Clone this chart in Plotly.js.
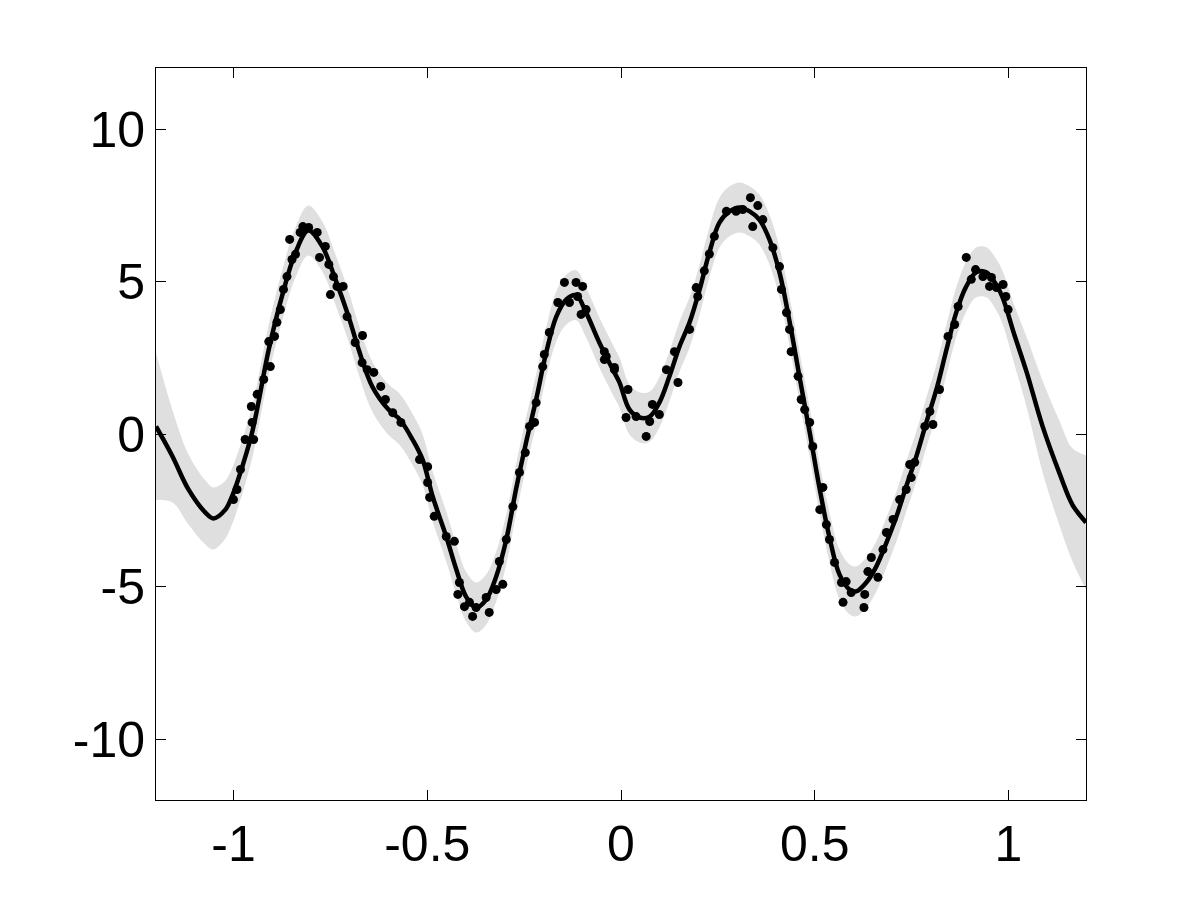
<!DOCTYPE html>
<html>
<head>
<meta charset="utf-8">
<script src="https://cdn.plot.ly/plotly-3.0.1.min.js"></script>
<style>html,body{margin:0;padding:0;background:#fff;}#chart{width:1200px;height:900px;}</style>
</head>
<body>
<div id="chart"></div>
<script>
// Posterior mean curve
var meanX = [-1.2,-1.158,-1.117,-1.073,-1.052,-1.021,-1.004,-0.988,-0.952,-0.909,
  -0.875,-0.840,-0.807,-0.771,-0.737,-0.703,-0.677,-0.642,-0.600,-0.571,
  -0.538,-0.512,-0.486,-0.451,-0.425,-0.400,-0.374,-0.348,-0.322,-0.296,
  -0.271,-0.245,-0.219,-0.193,-0.167,-0.141,-0.116,-0.090,-0.056,-0.021,
  -0.004,0.022,0.048,0.074,0.099,0.125,0.151,0.177,0.203,0.228,
  0.254,0.280,0.306,0.332,0.357,0.383,0.409,0.435,0.461,0.487,
  0.513,0.538,0.564,0.590,0.607,0.633,0.659,0.685,0.711,0.736,
  0.762,0.788,0.814,0.840,0.865,0.891,0.917,0.943,0.969,0.985,
  1.016,1.047,1.088,1.132,1.165,1.2];
var meanY = [0.25,-0.72,-1.80,-2.57,-2.77,-2.48,-2.05,-1.49,0.05,2.77,
  4.51,5.95,6.67,6.15,5.07,3.85,2.77,1.56,0.80,0.48,
  -0.18,-0.84,-2.05,-3.36,-4.44,-5.33,-5.69,-5.43,-4.67,-3.46,
  -1.82,-0.28,1.13,2.67,3.85,4.41,4.55,3.98,3.00,2.11,
  1.69,0.80,0.54,0.57,1.03,1.89,2.87,3.66,4.74,5.95,
  6.93,7.30,7.43,7.30,7.03,6.38,5.30,3.69,1.85,0.05,
  -1.82,-3.39,-4.61,-5.10,-5.16,-4.87,-4.34,-3.56,-2.70,-1.72,
  -0.74,0.38,1.46,2.77,3.98,4.84,5.30,5.30,4.88,4.47,
  3.22,2.02,0.25,-1.30,-2.32,-2.90];
// Half-width of the grey confidence band at each meanX
var bandHalf = [2.41,1.52,1.15,1.05,1.02,0.95,0.92,0.90,0.85,0.82,
  0.82,0.82,0.82,0.82,0.82,0.82,0.82,0.82,0.83,0.84,
  0.84,0.83,0.82,0.82,0.82,0.82,0.82,0.82,0.82,0.82,
  0.82,0.82,0.82,0.82,0.82,0.82,0.82,0.82,0.82,0.82,
  0.82,0.82,0.82,0.82,0.82,0.82,0.82,0.82,0.82,0.82,
  0.82,0.82,0.82,0.82,0.82,0.82,0.82,0.82,0.82,0.82,
  0.82,0.82,0.82,0.82,0.82,0.82,0.82,0.82,0.82,0.82,
  0.82,0.82,0.82,0.82,0.82,0.82,0.82,0.82,0.84,0.87,
  0.97,1.15,1.50,1.72,1.85,2.20];
// Observed data points
var ptX = [-1.000,-0.991,-0.982,-0.970,-0.948,-0.952,-0.954,-0.939,-0.922,-0.905,
  -0.909,-0.894,-0.888,-0.879,-0.871,-0.862,-0.849,-0.840,-0.855,-0.828,
  -0.821,-0.806,-0.784,-0.763,-0.778,-0.754,-0.742,-0.733,-0.750,-0.717,
  -0.707,-0.686,-0.667,-0.668,-0.655,-0.638,-0.620,-0.608,-0.589,
  -0.568,-0.520,-0.499,-0.499,-0.494,-0.482,-0.451,-0.430,-0.417,-0.421,
  -0.404,-0.391,-0.383,-0.374,-0.348,-0.340,-0.322,-0.305,-0.314,-0.296,
  -0.279,-0.262,-0.247,-0.236,-0.223,-0.219,-0.202,-0.198,-0.185,-0.163,
  -0.146,-0.133,-0.116,-0.099,-0.112,-0.090,-0.103,-0.038,-0.017,
  -0.043,-0.043,-0.017,0.018,0.013,0.039,0.065,0.074,0.081,0.099,0.117,
  0.147,0.138,0.177,0.198,0.194,0.215,0.228,0.241,0.272,0.297,0.314,0.334,
  0.353,0.340,0.366,0.392,0.409,0.414,0.427,0.435,0.439,0.465,
  0.474,0.487,
  0.457,0.495,0.521,0.513,0.530,0.538,0.551,0.569,0.581,0.573,
  0.594,0.629,0.627,0.637,0.646,0.663,0.676,0.685,0.702,0.719,
  0.736,0.749,0.745,0.758,0.784,0.805,0.797,0.822,0.844,0.861,
  0.870,0.891,0.904,0.915,0.934,0.951,0.956,0.969,0.986,0.993,0.999];
var ptY = [-2.15,-1.82,-1.16,-0.18,-0.18,0.38,0.90,1.30,1.79,2.21,
  3.03,3.20,3.66,4.08,4.74,5.16,5.72,5.89,6.38,6.61,
  6.80,6.77,6.61,6.15,5.79,5.56,5.16,4.84,4.57,4.84,
  3.85,3.00,3.23,2.34,2.11,2.02,1.56,1.13,0.70,
  0.38,-0.84,-1.07,-1.59,-2.08,-2.70,-3.36,-3.52,-4.87,-5.26,
  -5.66,-5.52,-5.98,-5.69,-5.36,-5.85,-5.10,-4.93,-4.18,-3.46,
  -2.38,-1.26,-0.61,0.25,0.38,1.03,2.21,2.61,3.33,4.31,
  4.97,4.31,4.97,4.84,4.51,4.08,3.92,2.54,2.18,
  2.70,2.44,2.11,1.46,0.54,0.57,-0.08,0.41,0.97,0.64,2.11,
  1.69,2.70,3.43,4.51,4.80,5.35,5.90,6.48,7.30,7.30,7.36,7.75,
  7.49,6.80,7.03,6.11,5.49,4.74,3.98,3.43,2.70,1.13,
  0.80,0.38,
  1.89,-0.41,-1.75,-2.48,-2.97,-3.46,-4.21,-4.87,-4.84,-5.52,
  -5.20,-5.26,-5.69,-4.51,-4.05,-4.70,-3.79,-3.23,-2.80,-2.15,
  -1.82,-1.43,-1.00,-0.93,0.25,0.31,0.74,1.46,3.20,3.59,
  4.18,5.79,5.07,5.39,5.16,4.84,5.13,4.80,4.90,4.51,4.08];
var xTickVals = [-1,-0.5,0,0.5,1];
var xTickText = ['-1','-0.5','0','0.5','1'];
var yTickVals = [-10,-5,0,5,10];
var yTickText = ['-10','-5','0','5','10'];

var upper = meanY.map(function(v,i){return v + bandHalf[i];});
var lower = meanY.map(function(v,i){return v - bandHalf[i];});

var traces = [
  {x: meanX, y: lower, type: 'scatter', mode: 'lines',
   line: {width: 0, shape: 'spline', smoothing: 1}, hoverinfo: 'skip'},
  {x: meanX, y: upper, type: 'scatter', mode: 'lines', fill: 'tonexty',
   fillcolor: 'rgb(223,223,223)', line: {width: 0, shape: 'spline', smoothing: 1}, hoverinfo: 'skip'},
  {x: meanX, y: meanY, type: 'scatter', mode: 'lines',
   line: {color: '#000', width: 4.5, shape: 'spline', smoothing: 1}},
  {x: ptX, y: ptY, type: 'scatter', mode: 'markers',
   marker: {color: '#000', size: 9}}
];
var axisCommon = {showgrid: false, zeroline: false, showline: true, linecolor: '#000', linewidth: 1,
  mirror: 'ticks', ticks: 'inside', ticklen: 10, tickcolor: '#000', tickwidth: 1,
  tickfont: {family: 'Liberation Sans, Arial, sans-serif', size: 50, color: '#000'}};
var layout = {
  width: 1200, height: 900, showlegend: false,
  paper_bgcolor: '#fff', plot_bgcolor: '#fff',
  margin: {l: 156, r: 114, t: 68, b: 100},
  xaxis: Object.assign({}, axisCommon, {range: [-1.2, 1.2], tickmode: 'array', tickvals: xTickVals, ticktext: xTickText}),
  yaxis: Object.assign({}, axisCommon, {range: [-12, 12], tickmode: 'array', tickvals: yTickVals, ticktext: yTickText})
};
Plotly.newPlot('chart', traces, layout, {displayModeBar: false, staticPlot: true});
</script>
</body>
</html>
